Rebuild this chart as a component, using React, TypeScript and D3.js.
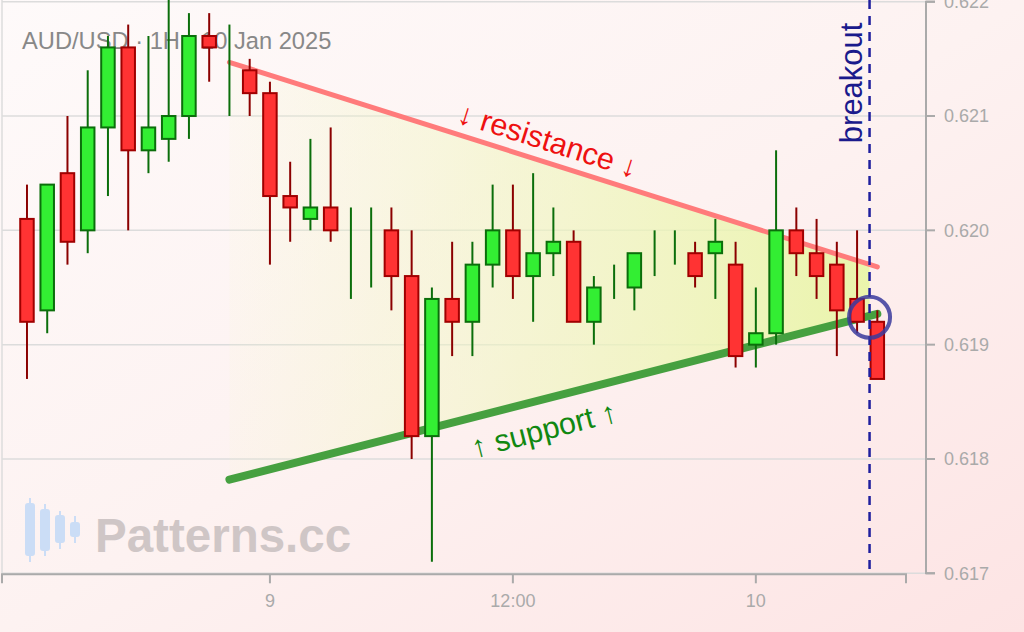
import React from "react";
import * as d3 from "d3";

const W = 1024;
const H = 632;

const times = [
  "2025-01-08T12:00Z", "2025-01-08T13:00Z", "2025-01-08T14:00Z", "2025-01-08T15:00Z",
  "2025-01-08T16:00Z", "2025-01-08T17:00Z", "2025-01-08T18:00Z", "2025-01-08T19:00Z",
  "2025-01-08T20:00Z", "2025-01-08T21:00Z", "2025-01-08T22:00Z", "2025-01-08T23:00Z",
  "2025-01-09T00:00Z", "2025-01-09T01:00Z", "2025-01-09T02:00Z", "2025-01-09T03:00Z",
  "2025-01-09T04:00Z", "2025-01-09T05:00Z", "2025-01-09T06:00Z", "2025-01-09T07:00Z",
  "2025-01-09T08:00Z", "2025-01-09T09:00Z", "2025-01-09T10:00Z", "2025-01-09T11:00Z",
  "2025-01-09T12:00Z", "2025-01-09T13:00Z", "2025-01-09T14:00Z", "2025-01-09T15:00Z",
  "2025-01-09T16:00Z", "2025-01-09T17:00Z", "2025-01-09T18:00Z", "2025-01-09T19:00Z",
  "2025-01-09T20:00Z", "2025-01-09T21:00Z", "2025-01-09T22:00Z", "2025-01-09T23:00Z",
  "2025-01-10T00:00Z", "2025-01-10T01:00Z", "2025-01-10T02:00Z", "2025-01-10T03:00Z",
  "2025-01-10T04:00Z", "2025-01-10T05:00Z", "2025-01-10T06:00Z",
];
const opens = [
  0.6201, 0.6193, 0.6205, 0.62, 0.6209, 0.6216, 0.6207, 0.6208, 0.621, 0.6217, 0.6214,
  0.6214, 0.6212, 0.6203, 0.6201, 0.6202, 0.6198, 0.6198, 0.62, 0.6196, 0.6182, 0.6194,
  0.6192, 0.6197, 0.62, 0.6196, 0.6198, 0.6199, 0.6192, 0.6195, 0.6195, 0.6198, 0.6198,
  0.6198, 0.6198, 0.6197, 0.619, 0.6191, 0.62, 0.6198, 0.6197, 0.6194, 0.6192,
];
const highs = [
  0.6204, 0.6204, 0.621, 0.6214, 0.6217, 0.6218, 0.6217, 0.6223, 0.6219, 0.6219, 0.6218,
  0.6215, 0.6213, 0.6206, 0.6208, 0.6209, 0.6202, 0.6202, 0.6202, 0.62, 0.6195, 0.6199,
  0.6199, 0.6204, 0.6204, 0.6205, 0.6202, 0.62, 0.6196, 0.6197, 0.6198, 0.62, 0.62,
  0.6199, 0.6201, 0.6199, 0.6195, 0.6207, 0.6202, 0.6201, 0.6199, 0.62, 0.6193,
];
const lows = [
  0.6187, 0.6191, 0.6197, 0.6198, 0.6203, 0.62, 0.6205, 0.6206, 0.6208, 0.6213, 0.621,
  0.621, 0.6197, 0.6199, 0.62, 0.6199, 0.6194, 0.6195, 0.6193, 0.618, 0.6171, 0.6189,
  0.6189, 0.6195, 0.6194, 0.6192, 0.6196, 0.6192, 0.619, 0.6194, 0.6193, 0.6196, 0.6197,
  0.6195, 0.6194, 0.6188, 0.6188, 0.619, 0.6196, 0.6194, 0.6189, 0.6191, 0.6187,
];
const closes = [
  0.6192, 0.6204, 0.6199, 0.6209, 0.6216, 0.6207, 0.6209, 0.621, 0.6217, 0.6216, 0.6214,
  0.6212, 0.6203, 0.6202, 0.6202, 0.62, 0.6198, 0.6198, 0.6196, 0.6182, 0.6194, 0.6192,
  0.6197, 0.62, 0.6196, 0.6198, 0.6199, 0.6192, 0.6195, 0.6195, 0.6198, 0.6198, 0.6198,
  0.6196, 0.6199, 0.6189, 0.6191, 0.62, 0.6198, 0.6196, 0.6193, 0.6192, 0.6187,
];

const priceTicks = [0.617, 0.618, 0.619, 0.62, 0.621, 0.622];
const timeTicks = ["2025-01-09T00:00Z", "2025-01-09T12:00Z", "2025-01-10T00:00Z"];
const timeTickLabels = ["9", "12:00", "10"];
const xDomain = ["2025-01-08T10:46Z", "2025-01-10T07:25Z"];
const yDomain = [0.617, 0.622];

const resistanceTimes = ["2025-01-08T22:00Z", "2025-01-10T06:00Z"];
const resistancePrices = [0.62147, 0.61968];
const supportTimes = ["2025-01-08T22:00Z", "2025-01-10T06:00Z"];
const supportPrices = [0.61782, 0.61927];
const breakoutTime = "2025-01-10T05:37Z";
const breakoutPrice = 0.61924;
const resistanceLabelAt = { t: "2025-01-09T13:44Z", p: 0.62079 };
const supportLabelAt = { t: "2025-01-09T13:32Z", p: 0.61826 };
const breakoutLabelAt = { t: "2025-01-10T05:14Z", p: 0.62129 };

const title = "AUD/USD · 1H · 10 Jan 2025";
const FONT = "'Liberation Sans', Arial, Helvetica, sans-serif";

export default function App() {
  const x = d3.scaleUtc().domain(xDomain.map((s) => new Date(s))).range([2, 906]);
  const y = d3.scaleLinear().domain(yDomain).range([573.3, 1.7]);
  const bodyW = 13.5;

  const rx1 = x(new Date(resistanceTimes[0]));
  const rx2 = x(new Date(resistanceTimes[1]));
  const ry1 = y(resistancePrices[0]);
  const ry2 = y(resistancePrices[1]);
  const sx1 = x(new Date(supportTimes[0]));
  const sx2 = x(new Date(supportTimes[1]));
  const sy1 = y(supportPrices[0]);
  const sy2 = y(supportPrices[1]);
  const bx = x(new Date(breakoutTime));
  const lerp = (a: number, b: number, xa: number, xb: number, xx: number) =>
    a + ((b - a) * (xx - xa)) / (xb - xa);
  const triPts = [
    [rx1, ry1],
    [bx, lerp(ry1, ry2, rx1, rx2, bx)],
    [bx, lerp(sy1, sy2, sx1, sx2, bx)],
    [sx1, sy1],
  ];
  const rAngle = (Math.atan2(ry2 - ry1, rx2 - rx1) * 180) / Math.PI;
  const sAngle = (Math.atan2(sy2 - sy1, sx2 - sx1) * 180) / Math.PI;

  const line = d3.line();
  const rlx = x(new Date(resistanceLabelAt.t));
  const rly = y(resistanceLabelAt.p);
  const slx = x(new Date(supportLabelAt.t));
  const sly = y(supportLabelAt.p);
  const blx = x(new Date(breakoutLabelAt.t));
  const bly = y(breakoutLabelAt.p);

  const yBottom = y(yDomain[0]);
  const axisY = yBottom + 1;

  const icon = [
    { cx: 30, wt: 498, wb: 562, bt: 503, bb: 556 },
    { cx: 45, wt: 504, wb: 556, bt: 509, bb: 551 },
    { cx: 60, wt: 511, wb: 549, bt: 515, bb: 543 },
    { cx: 75, wt: 516, wb: 543, bt: 522, bb: 537 },
  ];

  return (
    <svg
      width={W}
      height={H}
      style={{ position: "absolute", left: 0, top: 0, fontFamily: FONT }}
    >
      <defs>
        <linearGradient id="bg" x1="0" y1="0" x2="1" y2="1">
          <stop offset="0" stopColor="#fefafa" />
          <stop offset="0.5" stopColor="#fdf2f1" />
          <stop offset="1" stopColor="#fde4e4" />
        </linearGradient>
        <linearGradient id="tri" gradientUnits="userSpaceOnUse" x1={rx1} y1="0" x2={bx} y2="0">
          <stop offset="0" stopColor="#f4f8c8" stopOpacity="0.1" />
          <stop offset="0.45" stopColor="#f0f6c0" stopOpacity="0.6" />
          <stop offset="1" stopColor="#e9f5a8" stopOpacity="0.95" />
        </linearGradient>
        <clipPath id="plot">
          <rect x={0} y={0} width={926} height={yBottom} />
        </clipPath>
      </defs>
      <rect x={0} y={0} width={W} height={H} fill="url(#bg)" />

      {/* grid */}
      {priceTicks.map((p) => (
        <line key={p} x1={2} x2={926} y1={y(p)} y2={y(p)} stroke="#dcdcdc" strokeWidth={1.5} />
      ))}
      <line x1={2} x2={2} y1={0} y2={yBottom} stroke="#dcdcdc" strokeWidth={1.5} />

      {/* watermark */}
      <g opacity={0.9}>
        {icon.map((c, i) => (
          <g key={i} fill="#c6dbf7" stroke="none">
            <rect x={c.cx - 1} y={c.wt} width={2} height={c.wb - c.wt} />
            <rect x={c.cx - 5} y={c.bt} width={10} height={c.bb - c.bt} rx={3} />
          </g>
        ))}
        <text x={95} y={552} fontSize={47.5} fontWeight="bold" fill="#cbc2c2">
          Patterns.cc
        </text>
      </g>

      {/* title */}
      <text x={22} y={49} fontSize={23.7} fill="#888888">
        {title}
      </text>

      {/* triangle */}
      <polygon points={triPts.map((p) => p.join(",")).join(" ")} fill="url(#tri)" />
      <path
        d={line([[rx1, ry1], [rx2, ry2]]) || ""}
        stroke="#ff7b7b"
        strokeWidth={5}
        strokeLinecap="round"
        fill="none"
      />
      <path
        d={line([[sx1, sy1], [sx2, sy2]]) || ""}
        stroke="#46a040"
        strokeWidth={8}
        strokeLinecap="round"
        fill="none"
      />

      {/* candles */}
      <g clipPath="url(#plot)">
        {times.map((t, i) => {
          const cx = x(new Date(t));
          const o = opens[i];
          const c = closes[i];
          const up = c >= o;
          const top = y(Math.max(o, c));
          const bot = y(Math.min(o, c));
          const wick = up ? "#0b6e0b" : "#8b0000";
          const fill = up ? "#33ee33" : "#ff3333";
          const stroke = up ? "#0b6e0b" : "#a00000";
          return (
            <g key={t}>
              <line x1={cx} x2={cx} y1={y(highs[i])} y2={y(lows[i])} stroke={wick} strokeWidth={2} />
              {bot - top > 0 && (
                <rect
                  x={cx - bodyW / 2}
                  y={top}
                  width={bodyW}
                  height={bot - top}
                  fill={fill}
                  stroke={stroke}
                  strokeWidth={2}
                />
              )}
            </g>
          );
        })}
      </g>

      {/* labels */}
      <text
        transform={`translate(${rlx},${rly}) rotate(${rAngle})`}
        textAnchor="middle"
        dy="0.35em"
        fontSize={30.5}
        fill="#ee1111"
      >
        ↓ resistance ↓
      </text>
      <text
        transform={`translate(${slx},${sly}) rotate(${sAngle})`}
        textAnchor="middle"
        dy="0.35em"
        fontSize={30.5}
        fill="#118811"
      >
        ↑ support ↑
      </text>
      <text
        transform={`translate(${blx},${bly}) rotate(-90)`}
        textAnchor="middle"
        fontSize={31}
        fill="#1a1a8c"
      >
        breakout
      </text>

      {/* breakout marker */}
      <line
        x1={bx}
        x2={bx}
        y1={0}
        y2={yBottom}
        stroke="#1f1f9e"
        strokeWidth={2.5}
        strokeDasharray="9 7"
      />
      <circle
        cx={bx}
        cy={y(breakoutPrice)}
        r={20.5}
        fill="none"
        stroke="#3a3a9c"
        strokeOpacity={0.85}
        strokeWidth={4}
      />

      {/* x axis */}
      <path
        d={`M2,${axisY + 9}V${axisY}H906V${axisY + 9}`}
        stroke="#aaaaaa"
        strokeWidth={2}
        fill="none"
      />
      {timeTicks.map((t, i) => {
        const tx = x(new Date(t));
        return (
          <g key={t}>
            <line x1={tx} x2={tx} y1={axisY} y2={axisY + 9} stroke="#aaaaaa" strokeWidth={2} />
            <text x={tx} y={axisY + 33} textAnchor="middle" fontSize={18} fill="#aaaaaa">
              {timeTickLabels[i]}
            </text>
          </g>
        );
      })}

      {/* y axis */}
      <path
        d={`M935,${y(yDomain[1])}H926V${y(yDomain[0])}H935`}
        stroke="#aaaaaa"
        strokeWidth={2}
        fill="none"
      />
      {priceTicks.map((p) => (
        <g key={p}>
          <line x1={926} x2={935} y1={y(p)} y2={y(p)} stroke="#aaaaaa" strokeWidth={2} />
          <text x={944} y={y(p)} dy="0.35em" fontSize={18} fill="#aaaaaa">
            {p.toFixed(3)}
          </text>
        </g>
      ))}
    </svg>
  );
}
